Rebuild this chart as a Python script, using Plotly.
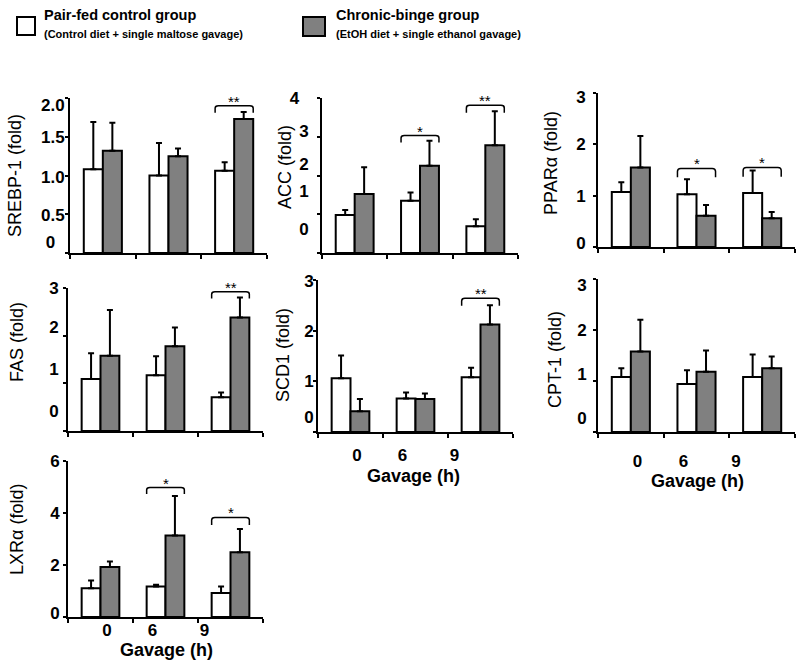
import plotly.graph_objects as go

W, H = 800, 666

groups = [0, 1, 2]
gavage_labels = ["0", "6", "9"]

srebp_ctrl = [1.08, 1.00, 1.06]
srebp_ctrl_err = [0.61, 0.42, 0.11]
srebp_cb = [1.32, 1.25, 1.73]
srebp_cb_err = [0.36, 0.10, 0.09]

acc_ctrl = [0.98, 1.35, 0.69]
acc_ctrl_err = [0.13, 0.21, 0.18]
acc_cb = [1.52, 2.25, 2.78]
acc_cb_err = [0.69, 0.65, 0.88]

ppar_ctrl = [1.07, 1.03, 1.05]
ppar_ctrl_err = [0.19, 0.29, 0.44]
ppar_cb = [1.55, 0.61, 0.56]
ppar_cb_err = [0.61, 0.21, 0.12]

fas_ctrl = [1.09, 1.17, 0.71]
fas_ctrl_err = [0.54, 0.40, 0.10]
fas_cb = [1.58, 1.78, 2.38]
fas_cb_err = [0.96, 0.39, 0.42]

scd1_ctrl = [1.06, 0.66, 1.08]
scd1_ctrl_err = [0.45, 0.12, 0.19]
scd1_cb = [0.41, 0.65, 2.12]
scd1_cb_err = [0.24, 0.11, 0.38]

cpt1_ctrl = [1.08, 0.94, 1.08]
cpt1_ctrl_err = [0.17, 0.27, 0.44]
cpt1_cb = [1.58, 1.18, 1.25]
cpt1_cb_err = [0.62, 0.42, 0.23]

lxr_ctrl = [1.11, 1.17, 0.92]
lxr_ctrl_err = [0.29, 0.07, 0.25]
lxr_cb = [1.92, 3.13, 2.49]
lxr_cb_err = [0.21, 1.52, 0.89]

NB = "\u00a0"
srebp_ticks = ["0" + NB * 2, "0.5", "1.0", "1.5", "2.0"]
acc_ticks = ["0", "1", "2", "3", "4" + NB * 2]
three_ticks = ["0", "1", "2", "3"]
lxr_ticks = ["0", "2", "4", "6"]

# significance brackets: (group, label, bracket top, bracket foot)
srebp_sig = [(2, "**", 1.90, 1.81)]
acc_sig = [(1, "*", 3.03, 2.85), (2, "**", 3.81, 3.62)]
ppar_sig = [(1, "*", 1.53, 1.36), (2, "*", 1.55, 1.37)]
fas_sig = [(2, "**", 2.92, 2.78)]
scd1_sig = [(2, "**", 2.64, 2.49)]
cpt1_sig = []
lxr_sig = [(1, "*", 4.98, 4.73), (2, "*", 3.83, 3.54)]

# layout-only (positions in pixels / label placements)
panels = [
    dict(title="SREBP-1 (fold)", c=srebp_ctrl, ce=srebp_ctrl_err, b=srebp_cb, be=srebp_cb_err,
         ymax=2, ticks=srebp_ticks, marks=[0, 0.5, 1, 1.5, 2], lpos=[0.14, 0.49, 0.98, 1.5, 1.91],
         xd=(70, 267), yd=(98, 253), tt=(15, 176), so=0, showx=False, sig=srebp_sig),
    dict(title="ACC (fold)", c=acc_ctrl, ce=acc_ctrl_err, b=acc_cb, be=acc_cb_err,
         ymax=4, ticks=acc_ticks, marks=[0, 1, 2, 3, 4], lpos=[0.62, 1.6, 2.3, 3.15, 4.0],
         xd=(322, 518), yd=(98, 253), tt=(285, 167), so=8, showx=False, sig=acc_sig),
    dict(title="PPARα (fold)", c=ppar_ctrl, ce=ppar_ctrl_err, b=ppar_cb, be=ppar_cb_err,
         ymax=3, ticks=three_ticks, marks=[0, 1, 2, 3], lpos=[0.08, 1.0, 2.0, 2.92],
         xd=(598, 795), yd=(93, 247), tt=(551, 163), so=7, showx=False, sig=ppar_sig),
    dict(title="FAS (fold)", c=fas_ctrl, ce=fas_ctrl_err, b=fas_cb, be=fas_cb_err,
         ymax=3, ticks=three_ticks, marks=[0, 1, 2, 3], lpos=[0.42, 1.31, 2.19, 3.0],
         xd=(68, 263), yd=(288, 431), tt=(17, 342), so=4, showx=False, sig=fas_sig),
    dict(title="SCD1 (fold)", c=scd1_ctrl, ce=scd1_ctrl_err, b=scd1_cb, be=scd1_cb_err,
         ymax=3, ticks=three_ticks, marks=[0, 1, 2, 3], lpos=[0.3, 1.0, 2.0, 2.97],
         xd=(318, 513), yd=(280, 432), tt=(283, 355), so=-1, showx=True, xso=7,
         gav=(413, 476), sig=scd1_sig),
    dict(title="CPT-1 (fold)", c=cpt1_ctrl, ce=cpt1_ctrl_err, b=cpt1_cb, be=cpt1_cb_err,
         ymax=3, ticks=three_ticks, marks=[0, 1, 2, 3], lpos=[0.28, 1.14, 2.0, 2.89],
         xd=(598, 795), yd=(279, 432), tt=(555, 360), so=6, showx=True, xso=13,
         gav=(697, 481), sig=cpt1_sig),
    dict(title="LXRα (fold)", c=lxr_ctrl, ce=lxr_ctrl_err, b=lxr_cb, be=lxr_cb_err,
         ymax=6, ticks=lxr_ticks, marks=[0, 2, 4, 6], lpos=[0.15, 2, 4, 6],
         xd=(68, 263), yd=(461, 617), tt=(17, 530), so=3, showx=True, xso=-3,
         gav=(166, 650), sig=lxr_sig),
]
gavage_label_pos = [0.1, 0.8, 1.6]

FONT = "Liberation Sans, Arial, sans-serif"

fig = go.Figure()
layout = {}
shapes = []
annotations = []


def px(x):
    return x / W


def py(y):
    return 1 - y / H


for i, p in enumerate(panels):
    n = "" if i == 0 else str(i + 1)
    xr, yr = "x" + n, "y" + n
    for vals, errs, color, og in [(p["c"], p["ce"], "white", "a"), (p["b"], p["be"], "#808080", "b")]:
        fig.add_trace(go.Bar(
            x=groups, y=vals, xaxis=xr, yaxis=yr, offsetgroup=og, showlegend=False,
            marker=dict(color=color, line=dict(color="black", width=2)),
            error_y=dict(type="data", array=errs, arrayminus=[0] * len(errs), symmetric=False,
                         color="black", thickness=2, width=3),
            hoverinfo="skip",
        ))
    layout["xaxis" + n] = dict(
        domain=[px(p["xd"][0]), px(p["xd"][1])], range=[-0.5, 2.5], anchor=yr,
        showline=True, linecolor="black", linewidth=2, showgrid=False, zeroline=False,
        tickmode="array", tickvals=gavage_label_pos if p["showx"] else [],
        ticktext=gavage_labels if p["showx"] else [], ticks="",
        showticklabels=p["showx"], ticklabelstandoff=p.get("xso", 0),
        tickfont=dict(family=FONT, size=17, color="black", weight="bold"),
        minor=dict(tickmode="array", tickvals=[-0.5, 0.5, 1.5, 2.5], ticks="outside",
                   ticklen=4, tickwidth=1.5, tickcolor="black", showgrid=False),
        automargin=False, fixedrange=True,
    )
    layout["yaxis" + n] = dict(
        domain=[py(p["yd"][1]), py(p["yd"][0])], range=[0, p["ymax"]], anchor=xr,
        showline=True, linecolor="black", linewidth=2, showgrid=False, zeroline=False,
        tickmode="array", tickvals=p["lpos"], ticktext=p["ticks"], ticks="",
        ticklabelstandoff=p["so"],
        tickfont=dict(family=FONT, size=17, color="black", weight="bold"),
        minor=dict(tickmode="array", tickvals=p["marks"], ticks="outside",
                   ticklen=3, tickwidth=1.5, tickcolor="black", showgrid=False),
        automargin=False, fixedrange=True,
    )
    annotations.append(dict(text=p["title"], x=px(p["tt"][0]), y=py(p["tt"][1]),
                            xref="paper", yref="paper", textangle=-90, showarrow=False,
                            xanchor="center", yanchor="middle",
                            font=dict(family=FONT, size=18, color="black")))
    if p["showx"]:
        annotations.append(dict(text="Gavage (h)", x=px(p["gav"][0]), y=py(p["gav"][1]),
                                xref="paper", yref="paper", showarrow=False,
                                xanchor="center", yanchor="middle",
                                font=dict(family=FONT, size=18, color="black", weight="bold")))
    for g, lab, top, foot in p["sig"]:
        x0, x1 = g - 0.29, g + 0.29
        d = 0.05
        dy = (top - foot) * 0.35
        path = (f"M {x0},{foot} L {x0},{top - dy} Q {x0},{top} {x0 + d},{top} "
                f"L {x1 - d},{top} Q {x1},{top} {x1},{top - dy} L {x1},{foot}")
        shapes.append(dict(type="path", path=path, xref=xr, yref=yr,
                           line=dict(color="black", width=1.5)))
        annotations.append(dict(text=lab, x=g, y=top, xref=xr, yref=yr, showarrow=False,
                                xanchor="center", yanchor="bottom", yshift=-6,
                                font=dict(family=FONT, size=15, color="black")))

# legend
shapes.append(dict(type="rect", xref="paper", yref="paper", x0=px(17), x1=px(35),
                   y0=py(35), y1=py(17), fillcolor="white", line=dict(color="black", width=2)))
shapes.append(dict(type="rect", xref="paper", yref="paper", x0=px(303), x1=px(325),
                   y0=py(36), y1=py(17), fillcolor="#808080", line=dict(color="black", width=2)))
legend_items = [
    ("Pair-fed control group", "(Control diet + single maltose gavage)", 42),
    ("Chronic-binge group", "(EtOH diet + single ethanol gavage)", 334),
]
for main, sub, lx in legend_items:
    annotations.append(dict(text=main, x=px(lx), y=py(15), xref="paper", yref="paper",
                            showarrow=False, xanchor="left", yanchor="middle",
                            font=dict(family=FONT, size=14.5, color="black", weight="bold")))
    annotations.append(dict(text=sub, x=px(lx), y=py(34), xref="paper", yref="paper",
                            showarrow=False, xanchor="left", yanchor="middle",
                            font=dict(family=FONT, size=11, color="black", weight="bold")))

fig.update_layout(
    width=W, height=H, margin=dict(l=0, r=0, t=0, b=0),
    paper_bgcolor="white", plot_bgcolor="white",
    barmode="group", bargap=0.42, bargroupgap=0,
    showlegend=False, shapes=shapes, annotations=annotations,
    font=dict(family=FONT, color="black"),
    **layout,
)

fig.write_html("out.html", config={"displayModeBar": False},
               post_script="document.body.style.margin='0';")
